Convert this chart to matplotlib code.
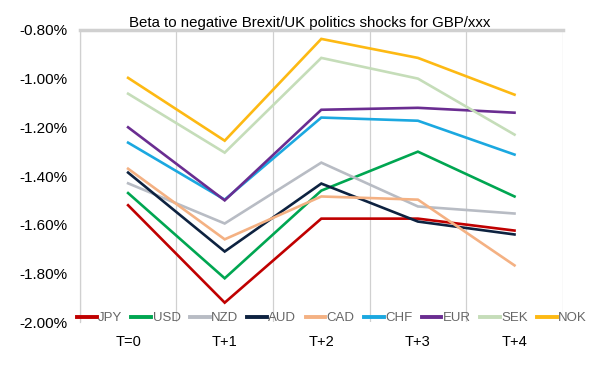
import matplotlib.pyplot as plt

plt.rcParams['font.family'] = ['Liberation Sans', 'DejaVu Sans']

periods = ["T=0", "T+1", "T+2", "T+3", "T+4"]

jpy = [-1.52, -1.92, -1.575, -1.575, -1.624]
usd = [-1.47, -1.82, -1.46, -1.30, -1.484]
nzd = [-1.43, -1.595, -1.345, -1.525, -1.554]
aud = [-1.386, -1.71, -1.431, -1.587, -1.64]
cad = [-1.37, -1.66, -1.484, -1.497, -1.767]
chf = [-1.263, -1.497, -1.16, -1.173, -1.312]
eur = [-1.20, -1.50, -1.128, -1.12, -1.14]
sek = [-1.062, -1.304, -0.915, -1.0, -1.23]
nok = [-0.997, -1.255, -0.837, -0.915, -1.066]

names = ["JPY", "USD", "NZD", "AUD", "CAD", "CHF", "EUR", "SEK", "NOK"]
series = [jpy, usd, nzd, aud, cad, chf, eur, sek, nok]
colors = ["#C00000", "#00A651", "#B8BCC4", "#0D2240", "#F4B183",
          "#1BA8E0", "#6A2D91", "#C5DDB9", "#FDB913"]

fig = plt.figure(figsize=(6, 3.69), dpi=100)
ax = fig.add_axes([0.133, 0.127, 0.805, 0.792])

x = range(len(periods))
for name, vals, c in zip(names, series, colors):
    ax.plot(x, vals, color=c, lw=1.9, label=name, solid_joinstyle='miter')

ax.set_xlim(-0.5, 4.5)
ax.set_ylim(-2.0, -0.8)
ax.set_xticks(list(x))
ax.set_xticklabels(periods, fontsize=10.5)
ax.set_xticks([i - 0.5 for i in range(len(periods) + 1)], minor=True)
ax.grid(True, which='minor', axis='x', color='#D0D0D0', lw=0.9)
ax.tick_params(axis='x', which='both', length=0, pad=9)

yt = [-2.0 + 0.2 * i for i in range(7)]
ax.set_yticks(yt)
ax.set_yticklabels([f"{v:.2f}%" for v in yt], fontsize=11)
ax.tick_params(axis='y', length=0, pad=9)

for s in ['right', 'bottom']:
    ax.spines[s].set_visible(False)
ax.spines['left'].set_color('#D0D0D0')
ax.spines['left'].set_linewidth(0.9)
ax.spines['top'].set_color('#D0D0D0')
ax.spines['top'].set_linewidth(2.5)

ax.set_title("Beta to negative Brexit/UK politics shocks for GBP/xxx",
             fontsize=10.8, pad=0, x=0.475)

leg = fig.legend(loc='center left', bbox_to_anchor=(0.128, 0.138), ncol=9,
                 frameon=False, fontsize=9.5, handlelength=1.5,
                 handletextpad=0.1, columnspacing=0.7, borderaxespad=0,
                 borderpad=0)
for t in leg.get_texts():
    t.set_color('#666666')
for h in leg.get_lines():
    h.set_linewidth(2.8)

fig.savefig("out.png", dpi=100)
